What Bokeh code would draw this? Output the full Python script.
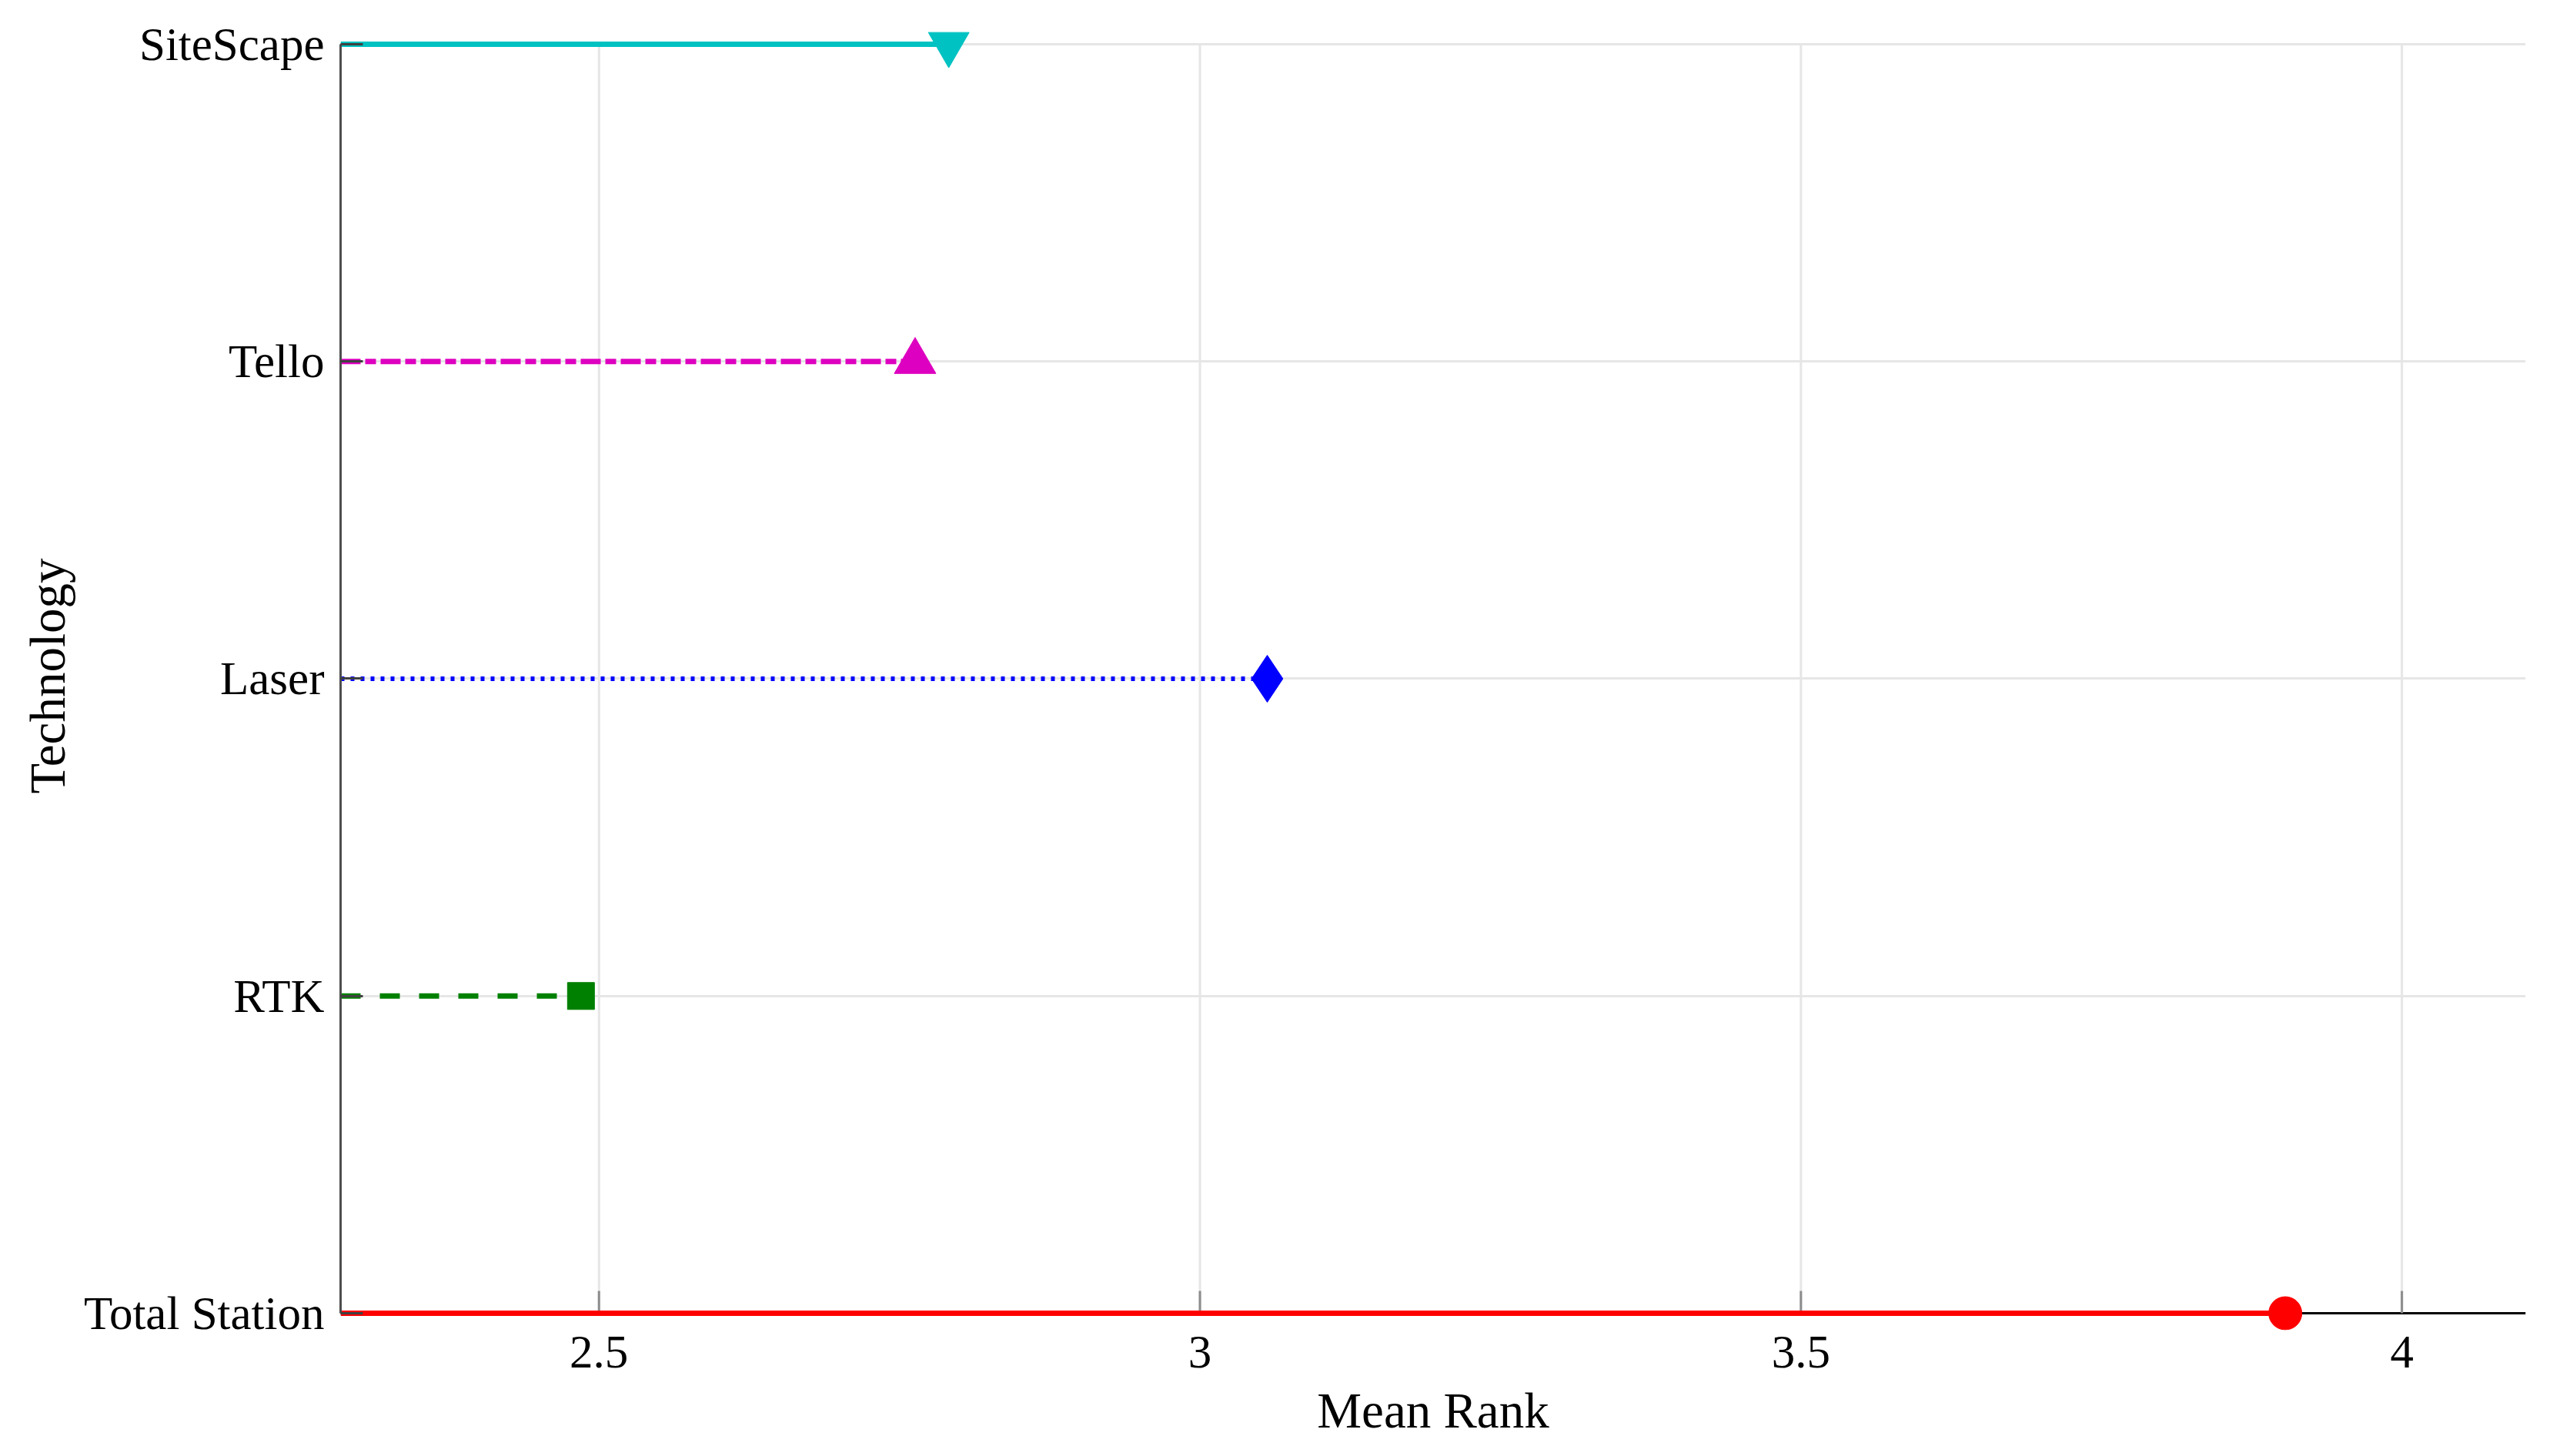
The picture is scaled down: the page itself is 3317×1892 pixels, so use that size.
from bokeh.plotting import figure
from bokeh.models import FixedTicker, Range1d
from bokeh.embed import file_html
from bokeh.resources import INLINE

# ---- data ----
technologies = ["SiteScape", "Tello", "Laser", "RTK", "Total Station"]
mean_rank = [2.791, 2.763, 3.056, 2.485, 3.903]
x_ticks = [2.5, 3.0, 3.5, 4.0]
x_tick_labels = ["2.5", "3", "3.5", "4"]
x_title = "Mean Rank"
y_title = "Technology"

# ---- styles ----
colors = ["#00C2C2", "#DE00C0", "#0000FF", "#008000", "#FF0000"]
dashes = ["solid", "26 6 14 6", "5 8", "26 25", "solid"]
widths = [7, 7, 6, 7, 7]
markers = ["inverted_triangle", "triangle", "diamond", "square", "circle"]
msizes = [53, 54, 61, 35, 43]

FONT = "Liberation Serif"
GRID = "#e6e6e6"

n = len(technologies)
y_pos = [n - i for i in range(n)]
y_min, y_max = min(y_pos), max(y_pos)
x_lo = min(mean_rank) - 0.2
x_hi = max(mean_rank) + 0.2
pad_top = 0.0703
pad_bot = 0.0534
tick_len = 0.0703

p = figure(width=3308, height=1884, output_backend="svg", toolbar_location=None,
           x_range=Range1d(x_lo, x_hi), y_range=Range1d(y_min - pad_bot, y_max + pad_top),
           min_border_left=442, min_border_right=27, min_border_top=28, min_border_bottom=156)
p.outline_line_color = None
p.background_fill_color = "white"
p.border_fill_color = "white"

# x axis (line and ticks drawn at the Total Station level below)
xa = p.xaxis[0]
xa.ticker = FixedTicker(ticks=x_ticks)
xa.major_label_overrides = {t: l for t, l in zip(x_ticks, x_tick_labels)}
xa.major_tick_in = 0
xa.major_tick_out = 0
xa.major_tick_line_color = None
xa.minor_tick_line_color = None
xa.axis_line_color = None
xa.major_label_text_font = FONT
xa.major_label_text_font_size = "61px"
xa.major_label_text_color = "black"
xa.major_label_standoff = 8
xa.axis_label = x_title
xa.axis_label_text_font = FONT
xa.axis_label_text_font_size = "65px"
xa.axis_label_text_font_style = "normal"
xa.axis_label_text_color = "black"
xa.axis_label_standoff = 17

# y axis
ya = p.yaxis[0]
ya.bounds = (y_min, y_max)
ya.ticker = FixedTicker(ticks=y_pos)
ya.major_label_overrides = {y: t for y, t in zip(y_pos, technologies)}
ya.major_tick_in = 29
ya.major_tick_out = 0
ya.major_tick_line_color = "#404040"
ya.major_tick_line_width = 3
ya.minor_tick_line_color = None
ya.axis_line_color = "#4d4d4d"
ya.axis_line_width = 3
ya.major_label_text_font = FONT
ya.major_label_text_font_size = "61px"
ya.major_label_text_color = "black"
ya.major_label_standoff = 21
ya.axis_label = y_title
ya.axis_label_text_font = FONT
ya.axis_label_text_font_size = "65px"
ya.axis_label_text_font_style = "normal"
ya.axis_label_text_color = "black"
ya.axis_label_standoff = 8

# grids
p.xgrid.grid_line_color = None
p.ygrid.ticker = FixedTicker(ticks=y_pos)
p.ygrid.grid_line_color = GRID
p.ygrid.grid_line_width = 3
p.segment(x0=x_ticks, y0=[y_min] * len(x_ticks), x1=x_ticks, y1=[y_max] * len(x_ticks),
          line_color=GRID, line_width=3, level="underlay")

# x axis line at the bottom category and inward ticks
p.segment(x0=[x_lo], y0=[y_min], x1=[x_hi], y1=[y_min], line_color="black", line_width=3)
p.segment(x0=x_ticks, y0=[y_min] * len(x_ticks), x1=x_ticks, y1=[y_min + tick_len] * len(x_ticks),
          line_color="#8c8c8c", line_width=3)

# series
for i in range(n):
    p.segment(x0=[x_lo], y0=[y_pos[i]], x1=[mean_rank[i]], y1=[y_pos[i]],
              line_color=colors[i], line_width=widths[i], line_dash=dashes[i])
for i in range(n):
    p.scatter(x=[mean_rank[i]], y=[y_pos[i]], marker=markers[i], size=msizes[i],
              fill_color=colors[i], line_color=colors[i], line_width=1)

open("out.html", "w").write(file_html(p, INLINE))
